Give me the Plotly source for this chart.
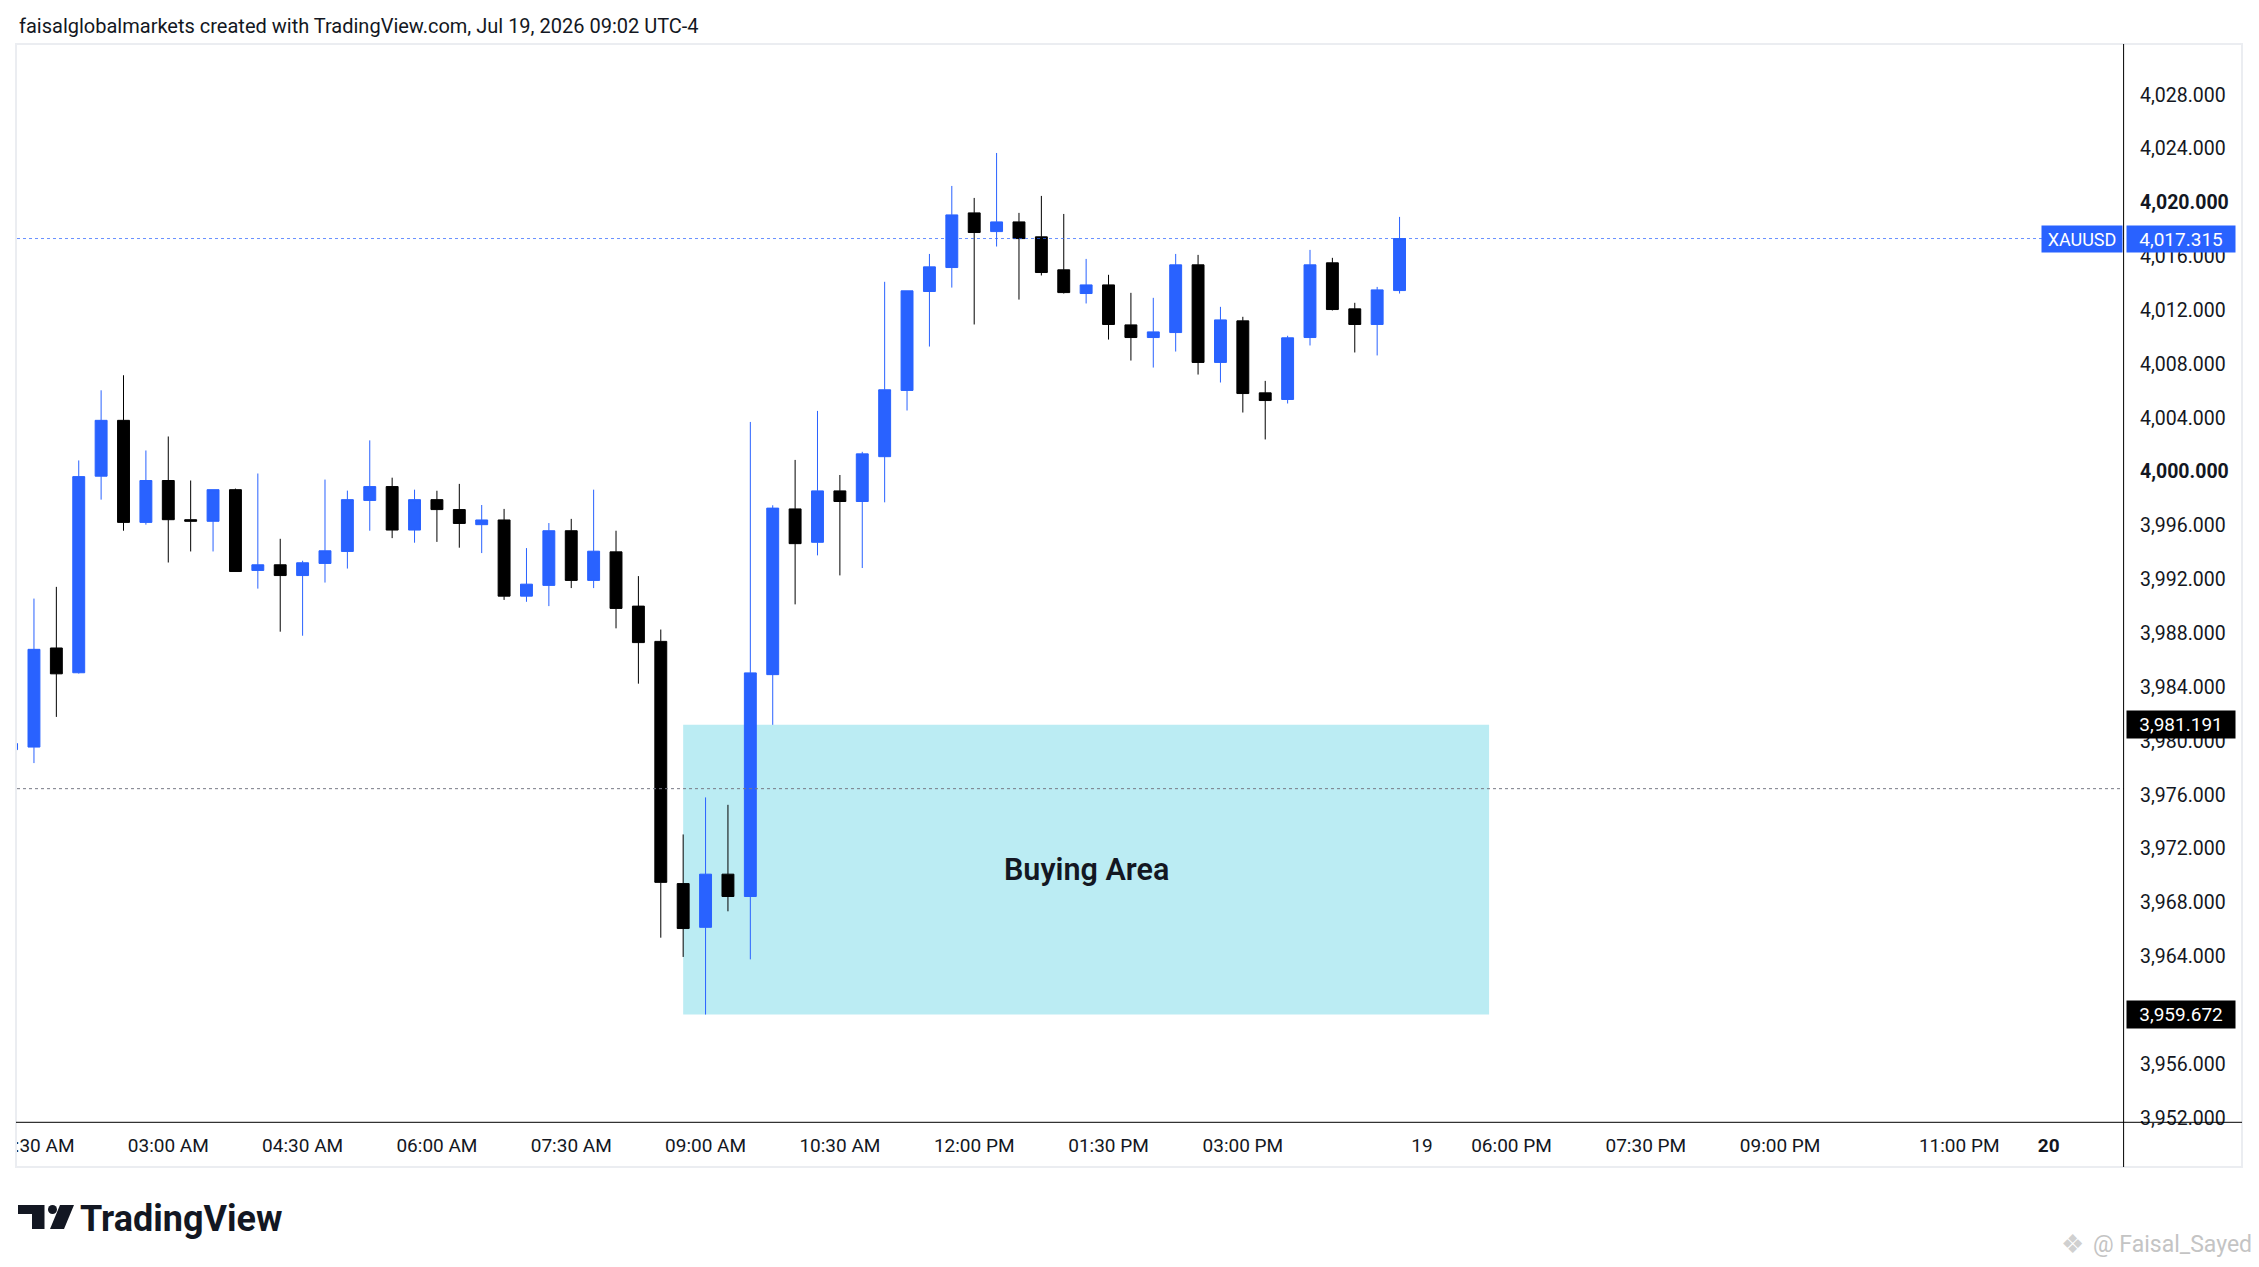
import pandas as pd
import plotly.graph_objects as go

# 15-minute XAUUSD bars, 01:15 AM to 04:45 PM
times = pd.date_range("2026-07-18 01:15", periods=63, freq="15min")

opens = [3979.35, 3979.54, 3986.90, 3985.06, 3999.66, 4003.81, 3996.23, 3999.34, 3996.43, 3996.31,
         3998.66, 3992.66, 3993.08, 3992.28, 3993.18, 3994.07, 3997.86, 3998.89, 3995.66, 3997.92,
         3997.18, 3996.06, 3996.41, 3990.75, 3991.55, 3995.61, 3991.92, 3994.04, 3990.01, 3987.39,
         3969.40, 3966.15, 3970.10, 3968.44, 3984.92, 3997.23, 3994.75, 3998.57, 3997.78, 4001.11,
         4006.03, 4013.38, 4015.16, 4019.22, 4017.83, 4018.55, 4017.44, 4014.99, 4013.23, 4013.87,
         4010.90, 4009.96, 4010.33, 4015.36, 4008.11, 4011.20, 4005.85, 4005.36, 4009.96, 4015.51,
         4012.09, 4010.93, 4013.45]
highs = [3979.90, 3990.57, 3991.44, 4000.83, 4006.04, 4007.16, 4001.57, 4002.61, 3999.34, 3998.66,
         3998.74, 3999.86, 3995.01, 3993.38, 3999.41, 3998.59, 4002.32, 3999.55, 3998.66, 3998.58,
         3999.09, 3997.52, 3997.23, 3994.32, 3996.18, 3996.49, 3998.66, 3995.61, 3992.24, 3988.27,
         3973.05, 3975.80, 3975.25, 4003.69, 3997.50, 4000.87, 4004.51, 3999.75, 4001.47, 4014.10,
         4013.43, 4016.17, 4021.22, 4020.33, 4023.67, 4019.22, 4020.48, 4019.14, 4015.80, 4014.62,
         4013.28, 4012.91, 4016.17, 4016.10, 4012.24, 4011.50, 4006.74, 4010.09, 4016.47, 4015.88,
         4012.54, 4013.72, 4018.92]
lows = [3979.20, 3978.35, 3981.78, 3985.00, 3997.92, 3995.61, 3996.06, 3993.25, 3994.07, 3994.07,
        3992.58, 3991.31, 3988.11, 3987.81, 3991.76, 3992.80, 3995.61, 3995.06, 3994.72, 3994.78,
        3994.35, 3993.95, 3990.47, 3990.33, 3990.01, 3991.35, 3991.35, 3988.36, 3984.25, 3965.38,
        3963.95, 3959.672, 3967.34, 3963.77, 3981.191, 3990.14, 3993.78, 3992.29, 3992.84, 3997.72,
        4004.54, 4009.29, 4013.67, 4010.93, 4016.72, 4012.78, 4014.57, 4013.23, 4012.49, 4009.81,
        4008.25, 4007.73, 4008.92, 4007.21, 4006.62, 4004.39, 4002.39, 4005.06, 4009.37, 4011.97,
        4008.85, 4008.63, 4013.23]
closes = [3979.80, 3986.80, 3984.98, 3999.63, 4003.81, 3996.23, 3999.34, 3996.43, 3996.31, 3998.66,
          3992.58, 3993.08, 3992.28, 3993.23, 3994.12, 3997.92, 3998.89, 3995.66, 3997.92, 3997.18,
          3996.15, 3996.41, 3990.75, 3991.64, 3995.61, 3991.92, 3994.09, 3989.84, 3987.30, 3969.49,
          3966.06, 3970.10, 3968.44, 3985.05, 3997.29, 3994.65, 3998.57, 3997.78, 4001.32, 4006.08,
          4013.43, 4015.21, 4019.07, 4017.76, 4018.55, 4017.31, 4014.79, 4013.30, 4013.87, 4010.93,
          4009.96, 4010.38, 4015.36, 4008.11, 4011.27, 4005.80, 4005.28, 4009.94, 4015.36, 4012.04,
          4010.93, 4013.50, 4017.315]

x_ticks = ["2026-07-18 01:30", "2026-07-18 03:00", "2026-07-18 04:30", "2026-07-18 06:00",
           "2026-07-18 07:30", "2026-07-18 09:00", "2026-07-18 10:30", "2026-07-18 12:00",
           "2026-07-18 13:30", "2026-07-18 15:00", "2026-07-18 17:00", "2026-07-18 18:00",
           "2026-07-18 19:30", "2026-07-18 21:00", "2026-07-18 23:00", "2026-07-19 00:00"]
x_labels = ["01:30 AM", "03:00 AM", "04:30 AM", "06:00 AM", "07:30 AM", "09:00 AM", "10:30 AM",
            "12:00 PM", "01:30 PM", "03:00 PM", "19", "06:00 PM", "07:30 PM", "09:00 PM",
            "11:00 PM", "<b>20</b>"]
y_ticks = [3952, 3956, 3960, 3964, 3968, 3972, 3976, 3980, 3984, 3988, 3992, 3996, 4000,
           4004, 4008, 4012, 4016, 4020, 4024, 4028]
bold_ticks = [4000, 4020]

last_price = 4017.315
zone_top, zone_bottom = 3981.191, 3959.672
zone_start, zone_end = "2026-07-18 08:45", "2026-07-18 17:45"
zone_mid = "2026-07-18 13:15"
gray_level = 3976.45

BLUE = "#2962ff"
TEXT = "#131722"

# page is 2259x1267, the browser body puts the figure at (8, 8)
OFF = 8
W, H = 2259 - OFF, 1267 - OFF
ML, MR, MT, MB = 9, 135, 37, 145
PW, PH = W - ML - MR, H - MT - MB


def px(X):
    return (X - OFF - ML) / PW


def py(Y):
    return (H - MB - (Y - OFF)) / PH


fig = go.Figure(go.Candlestick(
    x=times, open=opens, high=highs, low=lows, close=closes,
    increasing=dict(line=dict(color=BLUE, width=1), fillcolor=BLUE),
    decreasing=dict(line=dict(color="#000000", width=1), fillcolor="#000000"),
    hoverinfo="skip", showlegend=False,
))

y_text = [f"<b>{v:,.3f}</b>" if v in bold_ticks else f"{v:,.3f}" for v in y_ticks]

fig.update_layout(
    width=W, height=H,
    margin=dict(l=ML, r=MR, t=MT, b=MB, pad=0, autoexpand=False),
    paper_bgcolor="white", plot_bgcolor="white",
    boxgap=0.24,
    font=dict(family="Roboto", color=TEXT),
    xaxis=dict(
        type="date", range=["2026-07-18 01:18:38", "2026-07-19 00:50:25"],
        rangeslider=dict(visible=False), showgrid=False, zeroline=False, showline=False,
        tickmode="array", tickvals=x_ticks, ticktext=x_labels, ticklabeloverflow="allow",
        automargin=False,
        ticks="", ticklabelstandoff=10, tickfont=dict(size=19, color=TEXT),
    ),
    yaxis=dict(
        side="right", range=[3951.69, 4031.69], showgrid=False, zeroline=False, showline=False,
        tickmode="array", tickvals=y_ticks, ticktext=y_text, automargin=False,
        ticks="", ticklabelstandoff=15, tickfont=dict(size=19.5, color=TEXT),
    ),
)

# buying zone and horizontal levels
fig.add_shape(type="rect", xref="x", yref="y", x0=zone_start, x1=zone_end,
              y0=zone_bottom, y1=zone_top, fillcolor="#bbecf3", line=dict(width=0), layer="below")
fig.add_shape(type="line", xref="paper", yref="y", x0=0, x1=1, y0=last_price, y1=last_price,
              line=dict(color="rgba(41,98,255,0.7)", width=1, dash="dot"))
fig.add_shape(type="line", xref="paper", yref="y", x0=0, x1=1, y0=gray_level, y1=gray_level,
              line=dict(color="#787b86", width=1, dash="dot"))

# panel frame and axis lines
fig.add_shape(type="rect", xref="paper", yref="paper", x0=px(-20), x1=px(16), y0=py(1166), y1=py(1124),
              fillcolor="white", line=dict(width=0))
fig.add_shape(type="rect", xref="paper", yref="paper", x0=px(16), x1=px(2242), y0=py(1167), y1=py(44),
              line=dict(color="#ebedf1", width=2))
fig.add_shape(type="line", xref="paper", yref="paper", x0=px(2123.6), x1=px(2123.6), y0=py(1167), y1=py(44),
              line=dict(color="#000000", width=1))
fig.add_shape(type="line", xref="paper", yref="paper", x0=px(16), x1=px(2242), y0=py(1122.3), y1=py(1122.3),
              line=dict(color="#000000", width=1))

fig.add_annotation(x=zone_mid, y=(zone_top + zone_bottom) / 2, xref="x", yref="y",
                   text="Buying Area", showarrow=False,
                   font=dict(family="Roboto", size=30.5, color=TEXT, weight=600))

# price labels on the axis
fig.add_annotation(x=1, y=last_price, xref="paper", yref="y", xanchor="left", xshift=2,
                   text=f"{last_price:,.3f}", showarrow=False, bgcolor=BLUE, width=102, height=20,
                   borderpad=3, font=dict(size=19, color="white"))
fig.add_annotation(x=1, y=last_price, xref="paper", yref="y", xanchor="right", xshift=-1,
                   text="XAUUSD", showarrow=False, bgcolor=BLUE, width=74, height=20,
                   borderpad=3, font=dict(size=18, color="white"))
for lvl in [zone_top, zone_bottom]:
    fig.add_annotation(x=1, y=lvl, xref="paper", yref="y", xanchor="left", xshift=2,
                       text=f"{lvl:,.3f}", showarrow=False, bgcolor="#000000", width=102, height=21,
                       borderpad=3, font=dict(size=19, color="white"))

# header, logo, watermark
fig.add_annotation(x=px(17), y=py(26), xref="paper", yref="paper", xanchor="left", yanchor="middle",
                   text="faisalglobalmarkets created with TradingView.com, Jul 19, 2026 09:02 UTC-4",
                   showarrow=False, font=dict(size=20, color=TEXT))
fig.add_annotation(x=px(78), y=py(1219), xref="paper", yref="paper", xanchor="left", yanchor="middle",
                   text="<b>TradingView</b>", showarrow=False, font=dict(size=36, color=TEXT))
logo1 = (f"M {px(18)},{py(1205)} L {px(44.5)},{py(1205)} L {px(44.5)},{py(1229)} "
         f"L {px(32)},{py(1229)} L {px(32)},{py(1214)} L {px(18)},{py(1214)} Z")
logo2 = (f"M {px(60)},{py(1205)} L {px(74)},{py(1205)} L {px(64)},{py(1229)} L {px(50)},{py(1229)} Z")
for p in [logo1, logo2]:
    fig.add_shape(type="path", xref="paper", yref="paper", path=p, fillcolor=TEXT, line=dict(width=0))
fig.add_shape(type="circle", xref="paper", yref="paper", x0=px(48), x1=px(57), y0=py(1214), y1=py(1205),
              fillcolor=TEXT, line=dict(width=0))
fig.add_annotation(x=px(2254), y=py(1244), xref="paper", yref="paper", xanchor="right", yanchor="middle",
                   text="@ Faisal_Sayed", showarrow=False, font=dict(size=23, color="#c4c4c4"))
fig.add_annotation(x=px(2086), y=py(1244), xref="paper", yref="paper", xanchor="right", yanchor="middle",
                   text="❖", showarrow=False, font=dict(family="DejaVu Sans", size=26, color="#d0d0d0"))

fig.write_html("out.html")
